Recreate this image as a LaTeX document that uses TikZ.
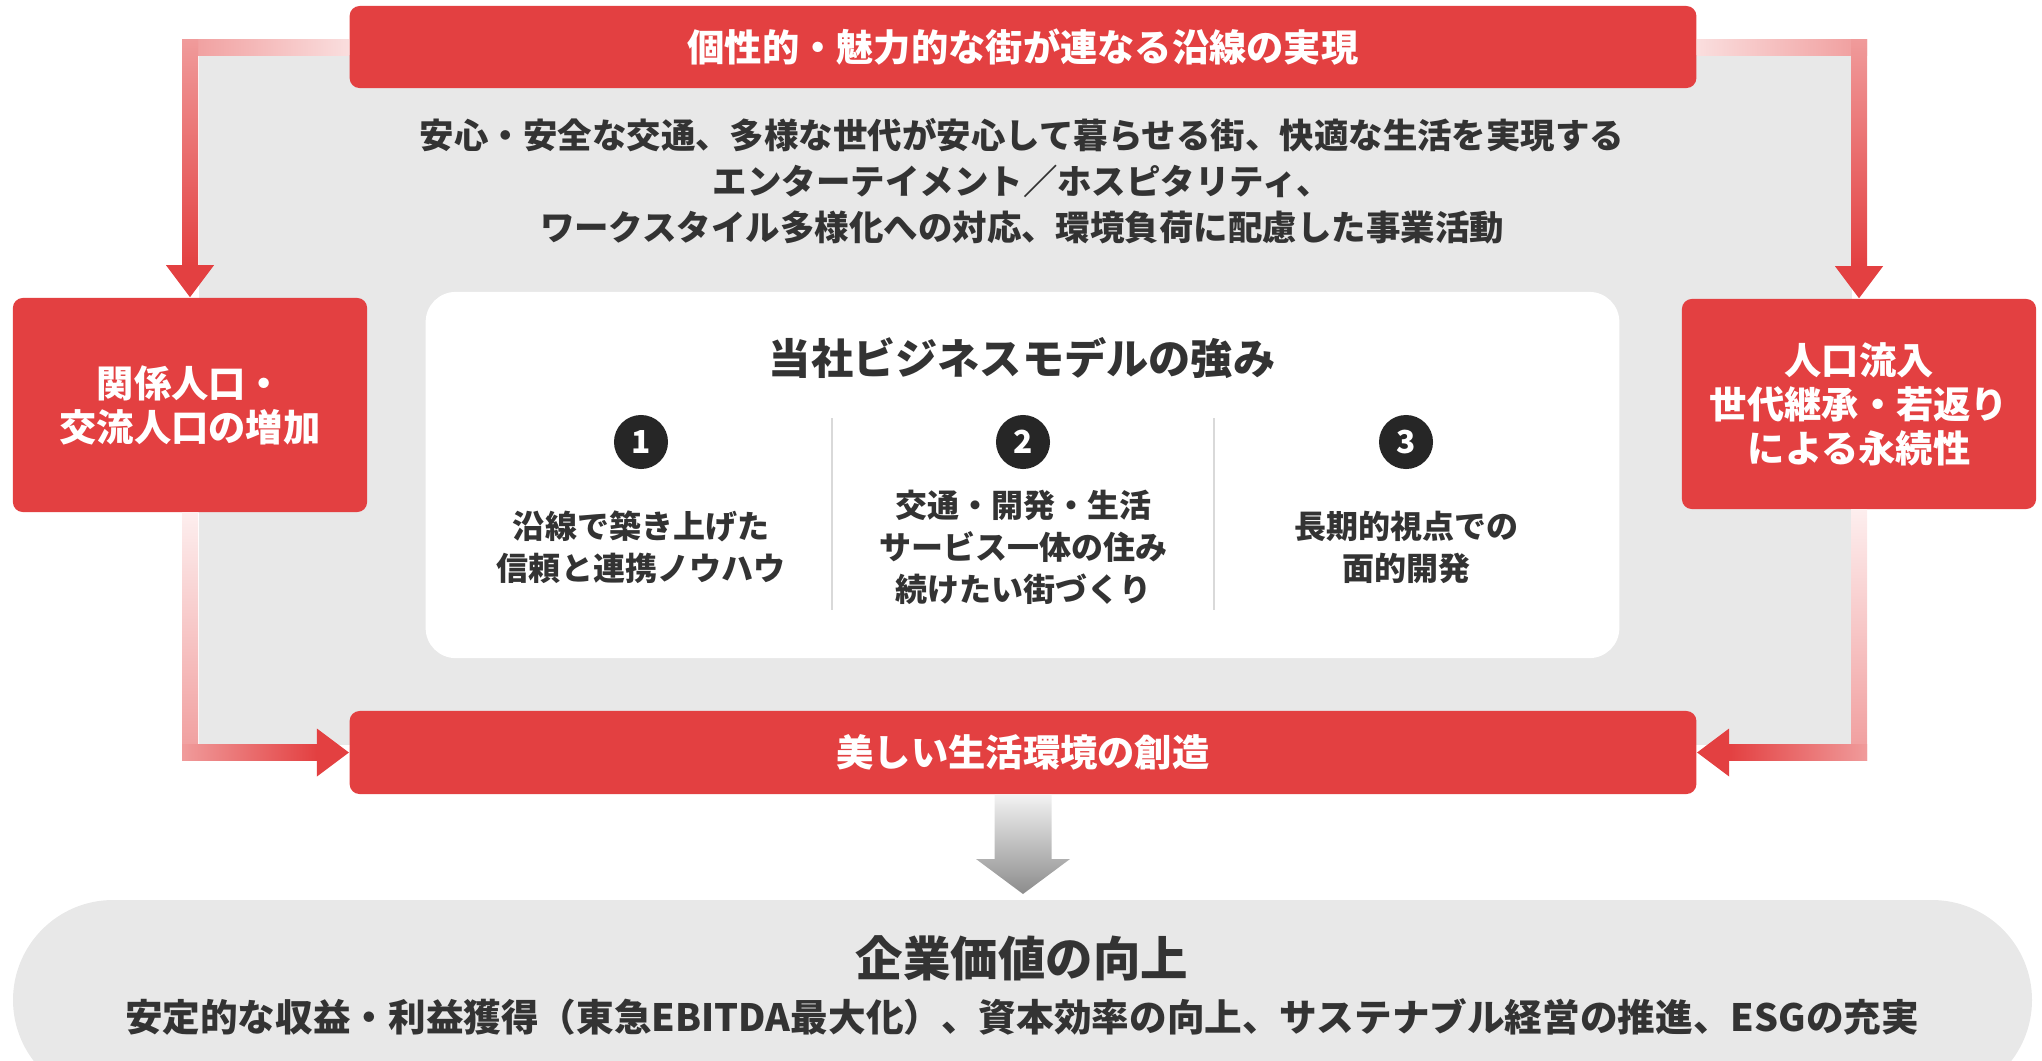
\documentclass[tikz,border=0pt]{standalone}
\usepackage{fontspec}
\setmainfont{Noto Sans CJK JP}
\usepackage{xcolor}
\usetikzlibrary{calc}
\definecolor{boxred}{RGB}{227,64,65}
\definecolor{panelgray}{RGB}{232,232,232}
\definecolor{textdark}{RGB}{51,51,51}
\definecolor{dotdark}{RGB}{38,38,38}
\definecolor{dividergray}{RGB}{217,217,217}
\definecolor{arrowmid}{RGB}{240,155,155}
\definecolor{arrowpale}{RGB}{250,222,222}
\definecolor{arrowfaint}{RGB}{253,238,238}
\definecolor{graytop}{RGB}{242,242,242}
\definecolor{graybot}{RGB}{140,140,140}

\tikzset{
  redbox/.style={fill=boxred, rounded corners=0.1cm, text=white, align=center, inner sep=0pt,
    font=\bfseries\fontsize{10.6}{12.5}\selectfont},
  bodytext/.style={text=textdark, align=center, inner sep=0pt,
    font=\bfseries\fontsize{9.8}{13.1}\selectfont},
  coltext/.style={text=textdark, align=center, inner sep=0pt,
    font=\bfseries\fontsize{9.1}{11.9}\selectfont},
  numdot/.style={circle, fill=dotdark, minimum size=0.54cm, inner sep=0pt, text=white,
    font=\bfseries\fontsize{9}{10}\selectfont}
}

\begin{document}
\begin{tikzpicture}[x=0.01cm, y=-0.01cm]
\useasboundingbox (0,0) rectangle (2042,1060);
\clip (0,0) rectangle (2042,1060);

% 1. GRAY PANEL
\fill[panelgray] (199,55) rectangle (1852,745);

% 2. RED BARS & SIDE BOXES
\node[redbox, minimum width=13.46cm, minimum height=0.82cm] (tbar) at (1023,47) {個性的・魅力的な街が連なる沿線の実現};
\node[redbox, minimum width=13.46cm, minimum height=0.83cm] (bbar) at (1023,752.5) {美しい生活環境の創造};
\node[redbox, minimum width=3.54cm, minimum height=2.14cm] (lbox) at (190,405) {関係人口・\\交流人口の増加};
\node[redbox, minimum width=3.54cm, minimum height=2.10cm] (rbox) at (1859,404) {人口流入\\世代継承・若返り\\による永続性};

% 3. DESCRIPTION
\node[bodytext] (desc) at (1022,181) {安心・安全な交通、多様な世代が安心して暮らせる街、快適な生活を実現する\\エンターテイメント／ホスピタリティ、\\ワークスタイル多様化への対応、環境負荷に配慮した事業活動};

% 4. STRENGTHS BOX
\node[fill=white, rounded corners=0.3cm, minimum width=11.93cm, minimum height=3.66cm, inner sep=0pt] (sbox) at (1022.5,475) {};
\node[text=textdark, inner sep=0pt, font=\bfseries\fontsize{12}{14}\selectfont] (stitle) at (1022,358) {当社ビジネスモデルの強み};
\draw[dividergray, line width=0.8pt] (832,418) -- (832,610);
\draw[dividergray, line width=0.8pt] (1214,418) -- (1214,610);
\foreach \n/\x in {1/641, 2/1023, 3/1406}
  \node[numdot] (num\n) at (\x,442) {\n};
\node[coltext] (col1) at (641,547) {沿線で築き上げた\\信頼と連携ノウハウ};
\node[coltext] (col2) at (1023,547) {交通・開発・生活\\サービス一体の住み\\続けたい街づくり};
\node[coltext] (col3) at (1406,547) {長期的視点での\\面的開発};

% 5. RED ARROWS
% top left
\shade[left color=arrowmid, right color=arrowpale] ($(lbox.north |- tbar.west)+(-8,-8)$) rectangle ($(tbar.west)+(0,8)$);
\shade[top color=arrowmid, bottom color=boxred] ($(lbox.north |- tbar.west)+(-8,-8)$) rectangle ($(lbox.north)+(8,-32)$);
\fill[boxred] ($(lbox.north)+(-24,-32)$) -- (lbox.north) -- ($(lbox.north)+(24,-32)$) -- cycle;
% top right
\shade[left color=arrowpale, right color=arrowmid] ($(tbar.east)+(0,-8)$) rectangle ($(rbox.north |- tbar.east)+(8,8)$);
\shade[top color=arrowmid, bottom color=boxred] ($(rbox.north |- tbar.east)+(-8,-8)$) rectangle ($(rbox.north)+(8,-32)$);
\fill[boxred] ($(rbox.north)+(-24,-32)$) -- (rbox.north) -- ($(rbox.north)+(24,-32)$) -- cycle;
% bottom left
\shade[top color=arrowfaint, bottom color=arrowmid] ($(lbox.south)+(-8,0)$) rectangle ($(lbox.south |- bbar.west)+(8,8)$);
\shade[left color=arrowmid, right color=boxred] ($(lbox.south |- bbar.west)+(-8,-8)$) rectangle ($(bbar.west)+(-32,8)$);
\fill[boxred] ($(bbar.west)+(-32,-24)$) -- (bbar.west) -- ($(bbar.west)+(-32,24)$) -- cycle;
% bottom right
\shade[top color=arrowfaint, bottom color=arrowmid] ($(rbox.south)+(-8,0)$) rectangle ($(rbox.south |- bbar.east)+(8,8)$);
\shade[left color=boxred, right color=arrowmid] ($(bbar.east)+(32,-8)$) rectangle ($(rbox.south |- bbar.east)+(8,8)$);
\fill[boxred] ($(bbar.east)+(32,-24)$) -- (bbar.east) -- ($(bbar.east)+(32,24)$) -- cycle;

% 6. CORPORATE VALUE
\fill[panelgray, rounded corners=1cm] (13,900) rectangle (2032,1100);
\coordinate (pilltop) at (1023,900);
\shade[top color=graytop, bottom color=graybot] ($(bbar.south)+(-28.5,0)$) -- ($(bbar.south)+(28.5,0)$)
  -- ($(pilltop)+(28.5,-41)$) -- ($(pilltop)+(47,-41)$) -- ($(pilltop)+(0,-6)$)
  -- ($(pilltop)+(-47,-41)$) -- ($(pilltop)+(-28.5,-41)$) -- cycle;
\node[text=textdark, inner sep=0pt, font=\bfseries\fontsize{13.5}{16}\selectfont] (goal) at (1022,958) {企業価値の向上};
\node[bodytext, font=\bfseries\fontsize{10.7}{13}\selectfont] (goaltext) at (1022,1017) {安定的な収益・利益獲得（東急EBITDA最大化）、資本効率の向上、サステナブル経営の推進、ESGの充実};

\end{tikzpicture}
\end{document}
